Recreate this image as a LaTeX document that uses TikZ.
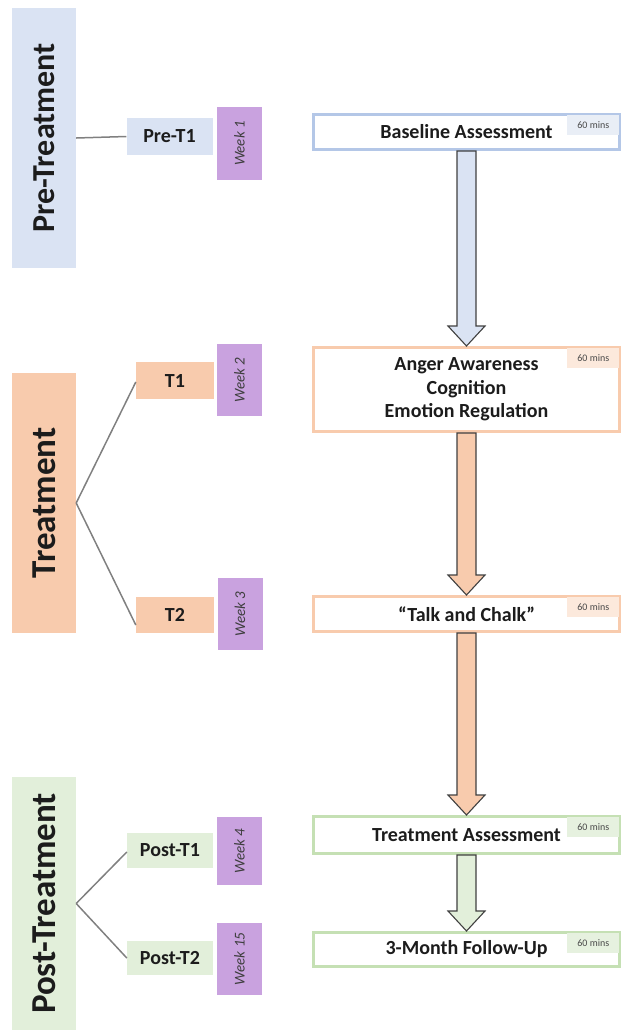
\documentclass[tikz,border=0pt]{standalone}
\usepackage{graphicx}
\usepackage{fontspec}
\setmainfont{Carlito}
\usetikzlibrary{calc}

\definecolor{preFill}{HTML}{DAE3F3}
\definecolor{preLine}{HTML}{B4C7E7}
\definecolor{trtFill}{HTML}{F8CBAD}
\definecolor{trtLine}{HTML}{F8CBAD}
\definecolor{postFill}{HTML}{E2EFDA}
\definecolor{postLine}{HTML}{C5E0B4}
\definecolor{weekFill}{HTML}{C9A2DF}
\definecolor{tagPre}{HTML}{E9EEF6}
\definecolor{tagTrt}{HTML}{FCE9DC}
\definecolor{tagPost}{HTML}{E6F1DF}
\definecolor{ink}{HTML}{1C1C1C}
\definecolor{linkGray}{HTML}{808080}

\tikzset{
  phase/.style={fill=#1, minimum width=64pt, minimum height=260pt, inner sep=0pt,
    text=ink, font=\fontsize{35}{35}\selectfont\bfseries},
  session/.style={fill=#1, minimum width=86pt, minimum height=36pt, inner sep=0pt,
    text=ink, font=\fontsize{20}{20}\selectfont\bfseries},
  week/.style={fill=weekFill, minimum width=45pt, minimum height=72pt, inner sep=0pt,
    text=ink!85, font=\fontsize{15}{15}\selectfont\itshape},
  stage/.style={draw=#1, line width=3pt, fill=white, minimum width=306pt,
    minimum height=35pt, inner sep=0pt, align=center, text=ink,
    font=\fontsize{20}{23.5}\selectfont\bfseries},
  tag/.style={fill=#1, minimum width=52pt, minimum height=20pt, inner sep=0pt,
    text=ink!80, font=\fontsize{10}{10}\selectfont, anchor=north east},
  link/.style={draw=linkGray, line width=1.5pt},
  flow/.style={draw=black!75, line width=1.1pt, fill=#1, line join=miter}
}

% block arrow running from the bottom of one stage box to the top of the next
\newcommand{\flowarrow}[3]{%
  \draw[flow=#3] let \p1=(#1.south), \p2=(#2.north) in
    (\x1-9.5pt,\y1) -- (\x1+9.5pt,\y1) -- (\x1+9.5pt,\y2+20pt)
    -- (\x1+18.5pt,\y2+20pt) -- (\x1,\y2) -- (\x1-18.5pt,\y2+20pt)
    -- (\x1-9.5pt,\y2+20pt) -- cycle;}

\begin{document}
\begin{tikzpicture}[x=1pt, y=-1pt]
\useasboundingbox (0,0) rectangle (623,1034);

% phases
\node[phase=preFill, font=\fontsize{32}{32}\selectfont\bfseries] (pre) at (44,138) {\rotatebox{90}{Pre-Treatment}};
\node[phase=trtFill] (trt) at (44,503) {\rotatebox{90}{Treatment}};
\node[phase=postFill, minimum height=253pt] (post) at (44,903.5) {\rotatebox{90}{Post-Treatment}};

% sessions
\node[session=preFill, minimum height=37pt] (pt1) at (169.5,136.5) {Pre-T1};
\node[session=trtFill, minimum width=78pt, minimum height=37pt] (t1) at (175,380.5) {T1};
\node[session=trtFill, minimum width=78pt] (t2) at (175,615) {T2};
\node[session=postFill, minimum height=35pt] (pst1) at (170,850.5) {Post-T1};
\node[session=postFill, minimum height=34pt] (pst2) at (170,958) {Post-T2};

% weeks
\node[week, minimum height=73pt] (w1) at (239.5,143.5) {\rotatebox{90}{Week 1}};
\node[week] (w2) at (239.5,380) {\rotatebox{90}{Week 2}};
\node[week] (w3) at (240,614) {\rotatebox{90}{Week 3}};
\node[week, minimum height=68pt] (w4) at (239.5,851) {\rotatebox{90}{Week 4}};
\node[week] (w15) at (239.5,959) {\rotatebox{90}{Week 15}};

% links from phases to sessions
\draw[link] (pre.east) -- (pt1.west);
\draw[link] (trt.east) -- ($(t1.west)+(0,1.5)$);
\draw[link] (trt.east) -- ($(t2.west)+(0,10)$);
\draw[link] (post.east) -- ($(pst1.west)+(0,1.5)$);
\draw[link] (post.east) -- (pst2.west);

% stage boxes
\node[stage=preLine] (base) at (466.5,132) {Baseline Assessment};
\node[stage=trtLine, minimum height=84pt] (anger) at (466.5,389.5)
  {Anger Awareness\\Cognition\\Emotion Regulation};
\node[stage=trtLine] (talk) at (466.5,614) {\char"201C Talk and Chalk\char"201D};
\node[stage=postLine, minimum height=37pt] (assess) at (466.5,835) {Treatment Assessment};
\node[stage=postLine, minimum height=34pt] (follow) at (466.5,949.5) {3-Month Follow-Up};

% duration tags
\node[tag=tagPre] (m1) at ($(base.north east)+(-1.5,1.5)$) {60 mins};
\node[tag=tagTrt] (m2) at ($(anger.north east)+(-1.5,1.5)$) {60 mins};
\node[tag=tagTrt] (m3) at ($(talk.north east)+(-1.5,1.5)$) {60 mins};
\node[tag=tagPost] (m4) at ($(assess.north east)+(-1.5,1.5)$) {60 mins};
\node[tag=tagPost] (m5) at ($(follow.north east)+(-1.5,1.5)$) {60 mins};

% flow arrows
\flowarrow{base}{anger}{preFill}
\flowarrow{anger}{talk}{trtFill}
\flowarrow{talk}{assess}{trtFill}
\flowarrow{assess}{follow}{postFill}
\end{tikzpicture}
\end{document}
